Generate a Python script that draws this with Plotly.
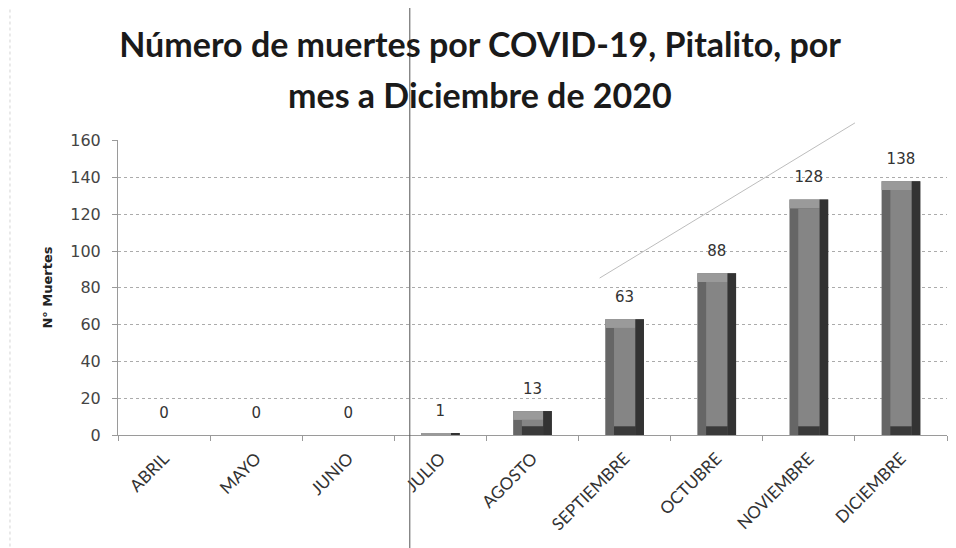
import plotly.graph_objects as go

meses = ["ABRIL", "MAYO", "JUNIO", "JULIO", "AGOSTO", "SEPTIEMBRE",
         "OCTUBRE", "NOVIEMBRE", "DICIEMBRE"]
muertes = [0, 0, 0, 1, 13, 63, 88, 128, 138]
y_ticks = [0, 20, 40, 60, 80, 100, 120, 140, 160]
titulo_1 = "Número de muertes por COVID-19, Pitalito, por"
titulo_2 = "mes a Diciembre de 2020"

BW = 0.42          # bar width (category units)
SIDE = 0.095       # bevel width horizontally
BEV = 4.8          # bevel height (data units)

bev = [min(BEV, v / 2) for v in muertes]

fig = go.Figure()

# full bar (left face)
fig.add_trace(go.Bar(x=meses, y=muertes, width=BW, offset=-BW / 2,
                     marker=dict(color="#666666", line=dict(width=0)),
                     hoverinfo="skip", showlegend=False))
# right face
fig.add_trace(go.Bar(x=meses, y=muertes, width=SIDE, offset=BW / 2 - SIDE,
                     marker=dict(color="#333333", line=dict(width=0)),
                     hoverinfo="skip", showlegend=False))
# bottom face
fig.add_trace(go.Bar(x=meses, y=bev, width=BW - 2 * SIDE, offset=-BW / 2 + SIDE,
                     marker=dict(color="#3a3a3a", line=dict(width=0)),
                     hoverinfo="skip", showlegend=False))
# top face
fig.add_trace(go.Bar(x=meses, y=bev, base=[v - b for v, b in zip(muertes, bev)],
                     width=BW - SIDE, offset=-BW / 2,
                     marker=dict(color="#9a9a9a", line=dict(width=0)),
                     hoverinfo="skip", showlegend=False))
# center face
fig.add_trace(go.Bar(x=meses, y=[v - 2 * b for v, b in zip(muertes, bev)], base=bev,
                     width=BW - 2 * SIDE, offset=-BW / 2 + SIDE,
                     marker=dict(color="#858585", line=dict(width=0)),
                     hoverinfo="skip", showlegend=False))

# data labels
fig.add_trace(go.Scatter(x=meses, y=muertes, mode="markers+text",
                         text=[str(v) for v in muertes],
                         textposition="top center",
                         marker=dict(size=20, opacity=0),
                         textfont=dict(family="DejaVu Sans", size=15, color="#333333"),
                         hoverinfo="skip", showlegend=False))

fig.update_layout(
    width=948, height=540,
    barmode="overlay",
    paper_bgcolor="white", plot_bgcolor="white",
    margin=dict(l=110, r=9, t=132, b=113),
    title=dict(text=titulo_1, x=0.498, xanchor="center", xref="container",
               y=1 - 37 / 540, yanchor="middle", yref="container",
               font=dict(family="Lato", size=34, color="#1a1a1a", weight="bold")),
    annotations=[dict(text=titulo_2, xref="paper", yref="paper",
                      x=(472 - 110) / 829, y=(427 - 87) / 295,
                      xanchor="center", yanchor="middle", showarrow=False,
                      font=dict(family="Lato", size=34, color="#1a1a1a", weight="bold"))],
    font=dict(family="DejaVu Sans", color="#333333"),
    xaxis=dict(type="category", tickangle=-45, ticks="outside", tickson="boundaries",
               ticklen=5, tickcolor="#9a9a9a", showline=True, linecolor="#9a9a9a",
               showgrid=False, ticklabelstandoff=6,
               tickfont=dict(family="Lato", size=17, color="#333333"),
               range=[-0.5, 8.5]),
    yaxis=dict(range=[0, 160.4], tickvals=y_ticks, ticks="outside", ticklen=5,
               tickcolor="#9a9a9a", showline=True, linecolor="#9a9a9a",
               showgrid=True, gridcolor="#ababab", griddash="dot", gridwidth=1,
               zeroline=False, ticklabelstandoff=8,
               tickfont=dict(family="DejaVu Sans", size=16, color="#444444"),
               title=dict(text="N° Muertes", standoff=14,
                          font=dict(family="DejaVu Sans", size=13, color="#222222",
                                    weight="bold"))),
    shapes=[
        dict(type="line", xref="paper", yref="paper", x0=0.352, x1=0.352,
             y0=-0.5, y1=1.6, line=dict(color="#555555", width=1)),
        dict(type="line", xref="paper", yref="paper", x0=0.581, x1=0.889,
             y0=0.532, y1=1.058, line=dict(color="#bdbdbd", width=1)),
        dict(type="line", xref="paper", yref="paper", x0=-0.1303, x1=-0.1303,
             y0=-0.5, y1=1.6, line=dict(color="#d4d4d4", width=1, dash="dot")),
    ],
)

fig.write_html("out.html")
